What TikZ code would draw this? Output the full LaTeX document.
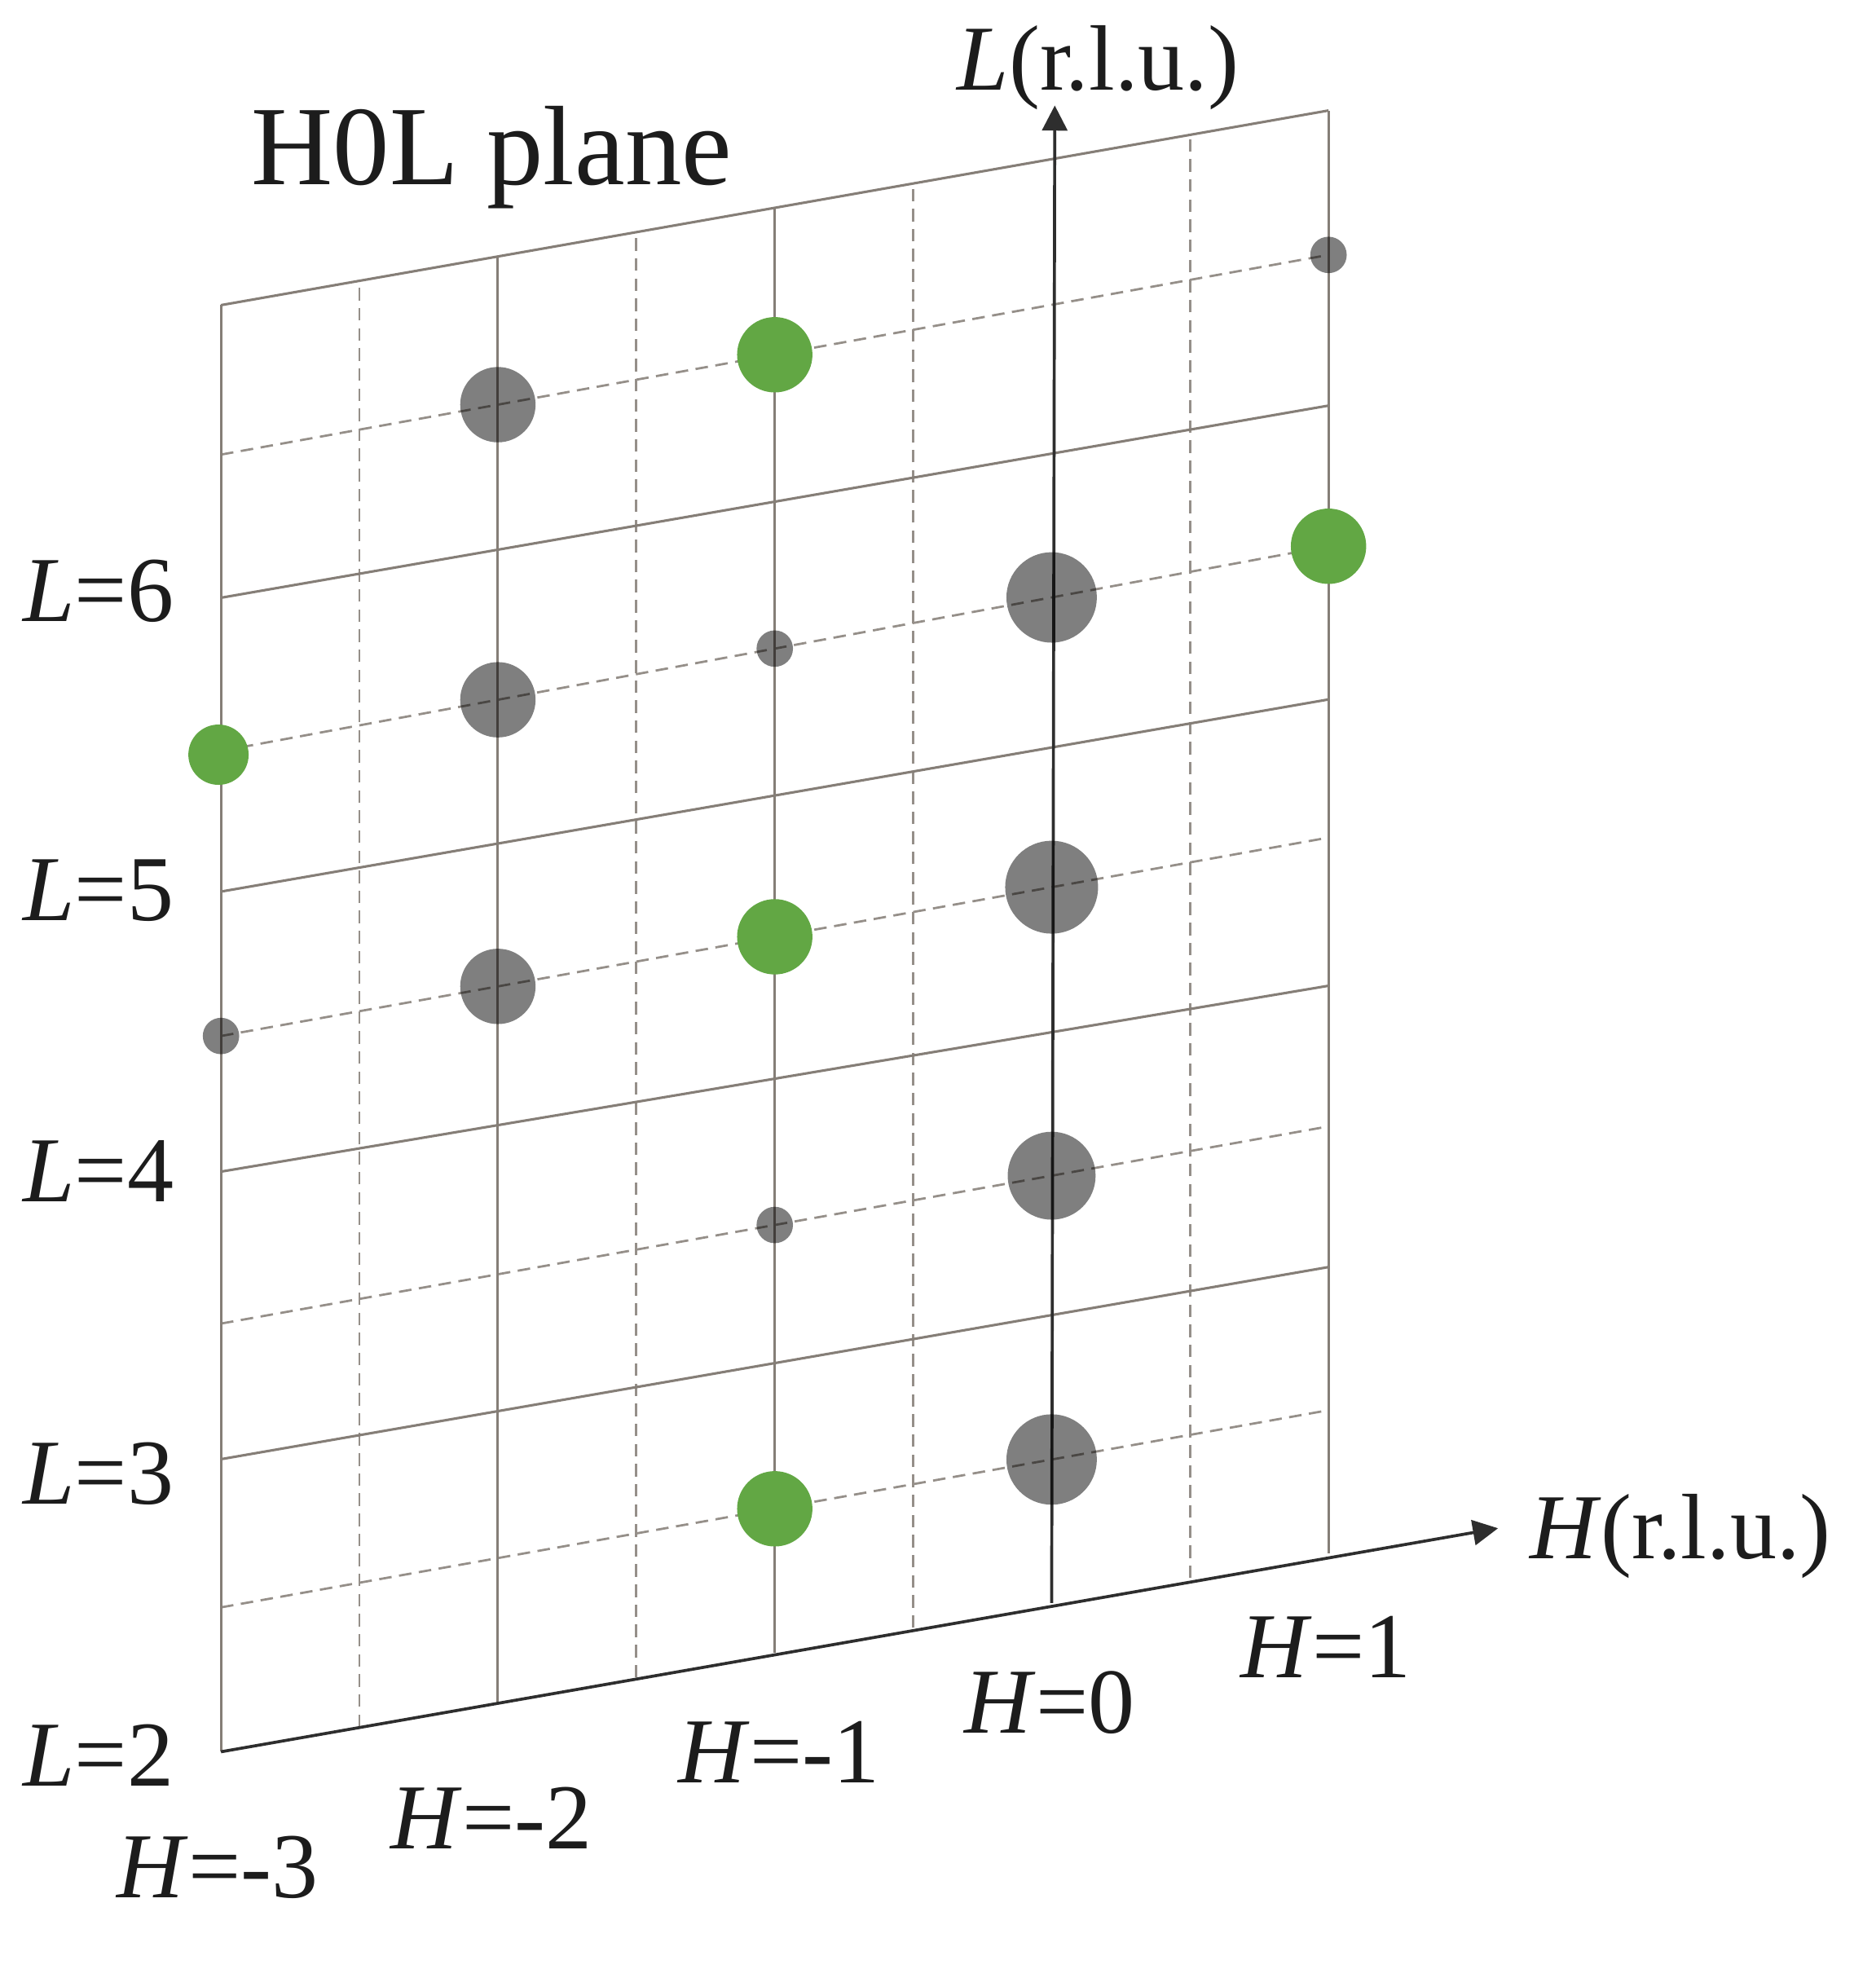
\documentclass[tikz,border=0pt]{standalone}
\usepackage{fontspec}
\setmainfont{Liberation Serif}
\usetikzlibrary{arrows.meta,calc}
\definecolor{gridc}{HTML}{857E77}
\definecolor{dashc}{HTML}{958F89}
\definecolor{axisc}{HTML}{2E2E2E}
\definecolor{dotgreen}{HTML}{62A744}
\definecolor{txt}{HTML}{1C1C1C}
\begin{document}
\begin{tikzpicture}[x=0.5pt, y=-0.5pt,
  gridline/.style={draw=gridc, line width=1pt},
  halfline/.style={draw=dashc, line width=0.9pt, dash pattern=on 5pt off 3pt},
  axisline/.style={draw=axisc, line width=1.2pt, -{Triangle[length=10pt,width=10pt]}},
  graydot/.style={circle, inner sep=0pt, draw=none, fill=black, fill opacity=0.5},
  greendot/.style={circle, inner sep=0pt, draw=none, fill=dotgreen},
  lab/.style={font=\fontsize{37}{40}\selectfont, inner sep=0pt, anchor=base west, text=txt},
  title/.style={font=\fontsize{45}{48}\selectfont, inner sep=0pt, anchor=base west, text=txt},
]
\useasboundingbox (0,0) rectangle (1494,1568);
% ends of the lines of constant L: (a) at H=-3, (b) at H=1
\coordinate (l20a) at (176,1395); \coordinate (l20b) at (1058,1237);
\coordinate (l25a) at (176,1280); \coordinate (l25b) at (1058,1123);
\coordinate (l30a) at (176,1162); \coordinate (l30b) at (1058,1009);
\coordinate (l35a) at (176,1054); \coordinate (l35b) at (1058,897);
\coordinate (l40a) at (176,933);  \coordinate (l40b) at (1058,785);
\coordinate (l45a) at (176,825);  \coordinate (l45b) at (1058,667);
\coordinate (l50a) at (176,710);  \coordinate (l50b) at (1058,557);
\coordinate (l55a) at (176,598);  \coordinate (l55b) at (1058,435);
\coordinate (l60a) at (176,476);  \coordinate (l60b) at (1058,323);
\coordinate (l65a) at (176,362);  \coordinate (l65b) at (1058,203);
\coordinate (l70a) at (176,243);  \coordinate (l70b) at (1058,88);
% half-unit dashed lines
\foreach \f in {0.125,0.375,0.625,0.875}
  \draw[halfline] ($(l20a)!\f!(l20b)$) -- ($(l70a)!\f!(l70b)$);
\foreach \l in {25,35,45,55,65}
  \draw[halfline] (l\l a) -- (l\l b);
% integer solid lines
\foreach \l in {30,40,50,60,70}
  \draw[gridline] (l\l a) -- (l\l b);
\foreach \f in {0,0.25,0.5,1}
  \draw[gridline] ($(l20a)!\f!(l20b)$) -- ($(l70a)!\f!(l70b)$);
% axes
\coordinate (Lbase) at ($(l20a)!0.75!(l20b)$);
\coordinate (Lend) at (840,84);
\coordinate (Hend) at (1193,1217);
\draw[axisline] (l20a) -- (Hend);
\draw[axisline] (Lbase) -- (Lend);
% gray peaks
\node[graydot, minimum size=14.5pt] (g1)  at (l65b) {};
\node[graydot, minimum size=30pt]   (g2)  at ($(l65a)!0.25!(l65b)$) {};
\node[graydot, minimum size=36pt]   (g3)  at ($(l55a)!0.75!(l55b)$) {};
\node[graydot, minimum size=14.5pt] (g4)  at ($(l55a)!0.5!(l55b)$) {};
\node[graydot, minimum size=30pt]   (g5)  at ($(l55a)!0.25!(l55b)$) {};
\node[graydot, minimum size=37pt]   (g6)  at ($(l45a)!0.75!(l45b)$) {};
\node[graydot, minimum size=30pt]   (g7)  at ($(l45a)!0.25!(l45b)$) {};
\node[graydot, minimum size=14.5pt] (g8)  at (l45a) {};
\node[graydot, minimum size=35pt]   (g9)  at ($(l35a)!0.75!(l35b)$) {};
\node[graydot, minimum size=14.5pt] (g10) at ($(l35a)!0.5!(l35b)$) {};
\node[graydot, minimum size=36pt]   (g11) at ($(l25a)!0.75!(l25b)$) {};
% green peaks
\node[greendot, minimum size=30pt] (v1) at ($(l65a)!0.5!(l65b)$) {};
\node[greendot, minimum size=30pt] (v2) at (l55b) {};
\node[greendot, minimum size=24pt] (v3) at ($(l55a)+(-2,3)$) {};
\node[greendot, minimum size=30pt] (v4) at ($(l45a)!0.5!(l45b)$) {};
\node[greendot, minimum size=30pt] (v5) at ($(l25a)!0.5!(l25b)$) {};
% texts
\node[title] (ttl) at (200,147) {H0L plane};
\node[lab] (Lax) at (762,72) {\textit{L}(r.l.u.)};
\node[lab] (Hax) at (1218,1241) {\textit{H}(r.l.u.)};
\node[lab] (L6) at (18,495) {\textit{L}=6};
\node[lab] (L5) at (18,733) {\textit{L}=5};
\node[lab] (L4) at (18,957) {\textit{L}=4};
\node[lab] (L3) at (18,1198) {\textit{L}=3};
\node[lab] (L2) at (18,1422) {\textit{L}=2};
\node[lab] (Hm3) at (93,1511) {\textit{H}=-3};
\node[lab] (Hm2) at (311,1472) {\textit{H}=-2};
\node[lab] (Hm1) at (540,1420) {\textit{H}=-1};
\node[lab] (H0) at (768,1380) {\textit{H}=0};
\node[lab] (H1) at (988,1336) {\textit{H}=1};
\end{tikzpicture}
\end{document}
